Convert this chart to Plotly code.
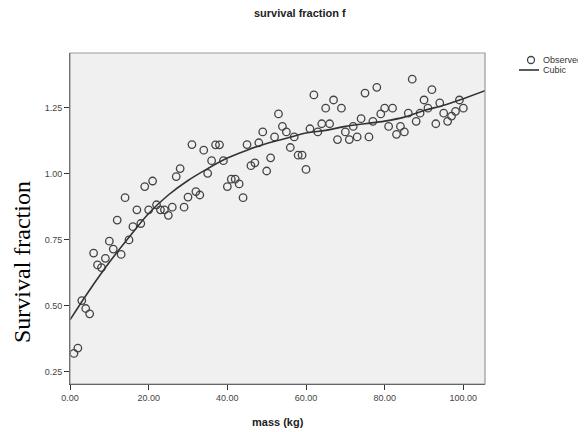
import plotly.graph_objects as go

# Observed data (mass in kg, survival fraction)
mass = list(range(1, 101))
survival = [
    0.32, 0.34, 0.52, 0.49, 0.47, 0.70, 0.655, 0.645, 0.68, 0.745,
    0.715, 0.825, 0.695, 0.91, 0.75, 0.80, 0.864, 0.812, 0.952, 0.864,
    0.973, 0.883, 0.864, 0.864, 0.843, 0.874, 0.99, 1.02, 0.874, 0.912,
    1.111, 0.933, 0.92, 1.09, 1.002, 1.05, 1.11, 1.11, 1.05, 0.952,
    0.98, 0.98, 0.962, 0.91, 1.111, 1.031, 1.042, 1.118, 1.159, 1.011,
    1.061, 1.14, 1.227, 1.18, 1.159, 1.10, 1.14, 1.071, 1.071, 1.017,
    1.171, 1.299, 1.159, 1.19, 1.249, 1.19, 1.28, 1.13, 1.249, 1.159,
    1.13, 1.18, 1.14, 1.209, 1.306, 1.14, 1.199, 1.328, 1.227, 1.249,
    1.18, 1.249, 1.15, 1.18, 1.159, 1.23, 1.359, 1.199, 1.23, 1.28,
    1.249, 1.319, 1.19, 1.269, 1.23, 1.199, 1.219, 1.237, 1.28, 1.249,
]

# Cubic fit curve
cubic_x = [0, 5, 10, 15, 20, 25, 30, 35, 40, 45, 50, 55, 60, 65, 70, 75, 80,
           85, 90, 95, 100, 105.5]
cubic_y = [0.447, 0.56, 0.665, 0.76, 0.85, 0.92, 0.975, 1.02, 1.06, 1.09,
           1.115, 1.135, 1.155, 1.165, 1.18, 1.19, 1.20, 1.215, 1.24, 1.26,
           1.285, 1.315]

x_ticks = [0, 20, 40, 60, 80, 100]
y_ticks = [0.25, 0.50, 0.75, 1.00, 1.25]

legend_labels = ["Observed", "Cubic"]

# figure-local geometry (page has an 8px body margin)
W, H = 578, 424
L, R, T, B = 62, 101, 45, 48
PW, PH = W - L - R, H - T - B


def px(x):
    return (x - L) / PW


def py(y):
    return (H - B - y) / PH


fig = go.Figure()
fig.add_trace(go.Scatter(
    x=mass, y=survival, mode="markers", name=legend_labels[0],
    marker=dict(symbol="circle-open", size=7.5, color="#444444",
                line=dict(width=1.3, color="#444444")),
))
fig.add_trace(go.Scatter(
    x=cubic_x, y=cubic_y, mode="lines", name=legend_labels[1],
    line=dict(color="#333333", width=1.6, shape="spline"),
))

axis_font = dict(family="Arial, Liberation Sans, sans-serif", size=9, color="#444444")
leg_font = dict(family="Arial, Liberation Sans, sans-serif", size=9, color="#333333")

# manual legend (compact rows)
cx, cy, r = 523, 52, 3.5
shapes = [
    dict(type="rect", xref="paper", yref="paper", x0=0, x1=1, y0=0, y1=1,
         line=dict(color="#999999", width=1.2), layer="above"),
    dict(type="circle", xref="paper", yref="paper",
         x0=px(cx - r), x1=px(cx + r), y0=py(cy + r), y1=py(cy - r),
         line=dict(color="#444444", width=1.3)),
    dict(type="line", xref="paper", yref="paper",
         x0=px(511), x1=px(531), y0=py(62), y1=py(62),
         line=dict(color="#333333", width=1.6)),
]

fig.update_layout(
    width=W, height=H,
    margin=dict(l=L, r=R, t=T, b=B, autoexpand=False),
    paper_bgcolor="white",
    plot_bgcolor="#f0f0f0",
    showlegend=False,
    xaxis=dict(range=[0, 105.5], tickvals=x_ticks, tickformat=".2f",
               showgrid=False, zeroline=False, showline=True, linecolor="#333333",
               linewidth=1, ticks="outside", ticklen=5, tickcolor="#333333",
               tickfont=axis_font),
    yaxis=dict(range=[0.204, 1.458], tickvals=y_ticks, tickformat=".2f",
               showgrid=False, zeroline=False, showline=True, linecolor="#333333",
               linewidth=1, ticks="outside", ticklen=5, tickcolor="#333333",
               tickfont=axis_font),
    shapes=shapes,
    annotations=[
        dict(text="<b>survival fraction f</b>", xref="paper", yref="paper",
             x=px(292), y=py(5), showarrow=False, xanchor="center", yanchor="middle",
             font=dict(family="Arial, Liberation Sans, sans-serif", size=11, color="#222222")),
        dict(text="<b>mass (kg)</b>", xref="paper", yref="paper",
             x=0.5, y=py(414), showarrow=False, xanchor="center", yanchor="middle",
             font=dict(family="Arial, Liberation Sans, sans-serif", size=11, color="#222222")),
        dict(text="Survival fraction", xref="paper", yref="paper",
             x=px(14), y=py(254), showarrow=False, xanchor="center", yanchor="middle",
             textangle=-90,
             font=dict(family="Liberation Serif, Times New Roman, serif", size=24, color="#000000")),
        dict(text=legend_labels[0], xref="paper", yref="paper",
             x=px(533), y=py(52), showarrow=False, xanchor="left", yanchor="middle",
             font=leg_font),
        dict(text=legend_labels[1], xref="paper", yref="paper",
             x=px(533), y=py(62), showarrow=False, xanchor="left", yanchor="middle",
             font=leg_font),
    ],
)

fig.write_html("out.html")
